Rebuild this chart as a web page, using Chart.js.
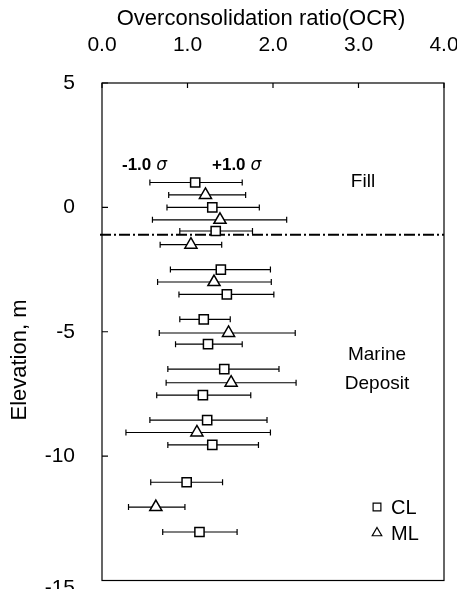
<!DOCTYPE html>
<html lang="en">
<head>
<meta charset="UTF-8">
<title>OCR vs Elevation</title>
<style>
  html, body { margin: 0; padding: 0; background: #fff; }
  #wrap { width: 457px; height: 589px; }
</style>
</head>
<body>
<div id="wrap"><canvas id="myChart"></canvas></div>
<script src="https://cdn.jsdelivr.net/npm/chart.js"></script>
<script>
// CL samples (squares)
var clElev = [1.0, 0.0, -0.95, -2.5, -3.5, -4.5, -5.5, -6.5, -7.55, -8.55, -9.55, -11.05, -13.05];
var clOcr  = [1.09, 1.29, 1.33, 1.39, 1.46, 1.19, 1.24, 1.43, 1.18, 1.23, 1.29, 0.99, 1.14];
var clLow  = [0.56, 0.76, 0.91, 0.80, 0.90, 0.91, 0.86, 0.77, 0.64, 0.56, 0.77, 0.57, 0.71];
var clHigh = [1.64, 1.84, 1.76, 1.97, 2.01, 1.50, 1.64, 2.07, 1.74, 1.93, 1.83, 1.41, 1.58];

// ML samples (triangles)
var mlElev = [0.5, -0.5, -1.5, -3.0, -5.05, -7.05, -9.05, -12.05];
var mlOcr  = [1.21, 1.38, 1.04, 1.31, 1.48, 1.51, 1.11, 0.63];
var mlLow  = [0.78, 0.59, 0.68, 0.65, 0.67, 0.75, 0.28, 0.31];
var mlHigh = [1.68, 2.16, 1.40, 1.98, 2.26, 2.27, 1.97, 0.97];

var xTicks = [0, 1, 2, 3, 4];
var yTicks = [5, 0, -5, -10, -15];
var fillBoundary = -1.1; // fill / marine deposit boundary elevation

function toPoints(xs, ys, lo, hi) {
  return xs.map(function (v, i) { return { x: v, y: ys[i], lo: lo[i], hi: hi[i] }; });
}

var FONT = '"Liberation Sans", Arial, sans-serif';

// keep label overhang from shrinking the plot box
function noPad() { return { left: 0, top: 0, right: 0, bottom: 0 }; }

// error bars + boundary line, drawn under markers
var errorBars = {
  id: 'errorBars',
  beforeDatasetsDraw: function (chart) {
    var ctx = chart.ctx, xs = chart.scales.x, ys = chart.scales.y, a = chart.chartArea;
    ctx.save();
    // dash-dot boundary
    var by = ys.getPixelForValue(fillBoundary);
    ctx.strokeStyle = '#000';
    ctx.lineWidth = 1.8;
    ctx.setLineDash([11, 3, 2, 3]);
    ctx.beginPath();
    ctx.moveTo(a.left - 2, by);
    ctx.lineTo(a.right, by);
    ctx.stroke();
    ctx.setLineDash([]);
    ctx.lineWidth = 1.2;
    chart.data.datasets.forEach(function (ds) {
      ds.data.forEach(function (p) {
        var y = ys.getPixelForValue(p.y);
        var x1 = xs.getPixelForValue(p.lo), x2 = xs.getPixelForValue(p.hi);
        ctx.beginPath();
        ctx.moveTo(x1, y); ctx.lineTo(x2, y);
        ctx.moveTo(x1, y - 3); ctx.lineTo(x1, y + 3);
        ctx.moveTo(x2, y - 3); ctx.lineTo(x2, y + 3);
        ctx.stroke();
      });
    });
    ctx.restore();
  }
};

// frame, inward ticks, titles, notes, legend
var decor = {
  id: 'decor',
  afterDraw: function (chart) {
    var ctx = chart.ctx, xs = chart.scales.x, ys = chart.scales.y, a = chart.chartArea;
    ctx.save();
    ctx.strokeStyle = '#000';
    ctx.lineWidth = 1.2;
    ctx.strokeRect(a.left, a.top, a.right - a.left, a.bottom - a.top);
    ctx.beginPath();
    xTicks.forEach(function (v) {
      var x = xs.getPixelForValue(v);
      ctx.moveTo(x, a.top); ctx.lineTo(x, a.top + 5);
    });
    yTicks.forEach(function (v) {
      var y = ys.getPixelForValue(v);
      ctx.moveTo(a.left, y); ctx.lineTo(a.left + 6, y);
    });
    ctx.stroke();

    ctx.fillStyle = '#000';
    ctx.textBaseline = 'middle';
    ctx.textAlign = 'center';
    ctx.font = '22px ' + FONT;
    ctx.fillText('Overconsolidation ratio(OCR)', 261, 19);
    ctx.save();
    ctx.translate(20, 360);
    ctx.rotate(-Math.PI / 2);
    ctx.fillText('Elevation, m', 0, 0);
    ctx.restore();

    // bottom tick label sits below the frame, partly cut off in the original
    ctx.textAlign = 'right';
    ctx.font = '21px ' + FONT;
    ctx.fillText(String(yTicks[yTicks.length - 1]), 75, a.bottom + 8);

    // sigma notes
    ctx.textAlign = 'left';
    function sigmaNote(txt, x, y) {
      ctx.font = 'bold 17px ' + FONT;
      ctx.fillText(txt, x, y);
      var w = ctx.measureText(txt).width;
      ctx.font = 'italic 17px "DejaVu Sans", sans-serif';
      ctx.fillText('\u03c3', x + w + 5, y + 1);
    }
    sigmaNote('-1.0', 122, 165);
    sigmaNote('+1.0', 212, 165);

    ctx.textAlign = 'center';
    ctx.font = '19px ' + FONT;
    ctx.fillText('Fill', 363, 182);
    ctx.fillText('Marine', 377, 355);
    ctx.fillText('Deposit', 377, 384);

    // legend
    ctx.textAlign = 'left';
    ctx.font = '20px ' + FONT;
    chart.data.datasets.forEach(function (ds, i) {
      var ly = 507 + i * 26;
      ctx.fillStyle = '#fff';
      ctx.strokeStyle = '#000';
      ctx.lineWidth = 1.2;
      Chart.helpers.drawPoint(ctx, { pointStyle: ds.pointStyle, radius: 5.5, borderWidth: 1.2 }, 377, ly);
      ctx.fillStyle = '#000';
      ctx.fillText(ds.label, 391, ly + 1);
    });
    ctx.restore();
  }
};

var ctx = document.getElementById('myChart').getContext('2d');
var myChart = new Chart(ctx, {
  type: 'scatter',
  data: {
    datasets: [{
      label: 'CL',
      data: toPoints(clOcr, clElev, clLow, clHigh),
      pointStyle: 'rect',
      pointRadius: 6.5,
      borderColor: '#000',
      backgroundColor: '#fff',
      borderWidth: 1.5
    }, {
      label: 'ML',
      data: toPoints(mlOcr, mlElev, mlLow, mlHigh),
      pointStyle: 'triangle',
      pointRadius: 7,
      borderColor: '#000',
      backgroundColor: '#fff',
      borderWidth: 1.5
    }]
  },
  options: {
    responsive: true,
    maintainAspectRatio: false,
    animation: false,
    layout: { padding: { left: 0, top: 0, right: 13, bottom: 6 } },
    plugins: { legend: { display: false }, tooltip: { enabled: false } },
    scales: {
      x: {
        type: 'linear',
        position: 'top',
        min: 0,
        max: 4,
        afterFit: function (s) { s.height = 83; s.getPadding = noPad; },
        afterBuildTicks: function (s) { s.ticks = xTicks.map(function (v) { return { value: v }; }); },
        ticks: {
          callback: function (v) { return Number(v).toFixed(1); },
          color: '#000',
          font: { family: FONT, size: 21 },
          padding: 25,
          maxRotation: 0
        },
        grid: { display: false, drawTicks: false },
        border: { display: false }
      },
      y: {
        min: -15,
        max: 5,
        afterFit: function (s) { s.width = 102; s.getPadding = noPad; },
        afterBuildTicks: function (s) { s.ticks = yTicks.map(function (v) { return { value: v }; }); },
        ticks: {
          callback: function (v) { return v === yTicks[yTicks.length - 1] ? '' : String(v); },
          color: '#000',
          font: { family: FONT, size: 21 },
          padding: 27
        },
        grid: { display: false, drawTicks: false },
        border: { display: false }
      }
    }
  },
  plugins: [errorBars, decor]
});
</script>
</body>
</html>
